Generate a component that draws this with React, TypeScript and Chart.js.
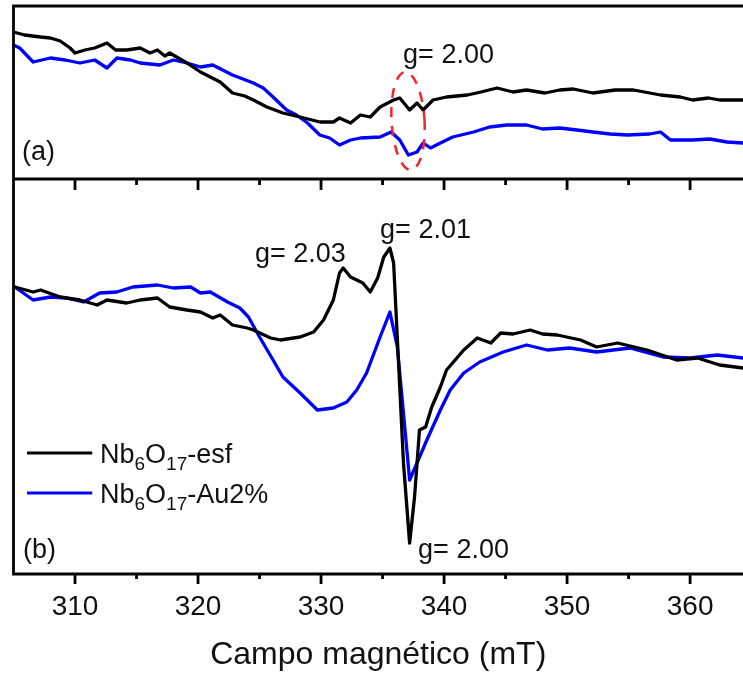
import React, { useEffect, useRef } from 'react';
import { Chart, registerables } from 'chart.js';

Chart.register(...registerables);

// ---------- data (field in mT, signal in arbitrary units) ----------
// Panel (a)
const FIELD_A_ESF = [305.0, 305.9, 307.2, 308.0, 308.8, 309.6, 310.0, 310.8, 311.6, 312.6, 313.3, 314.2, 315.3, 316.1, 316.7, 317.3, 317.7, 319.1, 320.2, 321.8, 322.8, 323.8, 324.5, 325.6, 326.9, 328.3, 329.9, 331.0, 331.5, 332.4, 333.2, 334.0, 334.8, 335.9, 336.4, 337.2, 337.8, 338.3, 339.1, 340.2, 341.9, 343.0, 344.3, 345.6, 346.7, 348.2, 349.4, 350.5, 352.1, 353.9, 355.4, 357.6, 359.2, 360.2, 361.5, 362.4, 364.3];
const SIGNAL_A_ESF = [147, 144, 142, 141, 138, 131, 126, 129, 131, 136, 129, 129, 131, 126, 129, 123, 126, 116, 107, 97, 86, 83, 79, 72, 66, 62, 57, 57, 61, 56, 64, 62, 72, 79, 81, 69, 76, 69, 79, 82, 84, 87, 91, 87, 89, 86, 89, 90, 86, 89, 89, 84, 82, 79, 81, 79, 79];

const FIELD_A_AU = [305.0, 305.5, 306.6, 308.0, 309.2, 310.4, 311.6, 312.6, 313.4, 314.5, 315.3, 316.9, 318.0, 319.1, 320.2, 321.2, 322.8, 324.5, 325.3, 326.1, 327.2, 328.0, 328.9, 329.9, 330.7, 331.5, 332.4, 333.2, 334.8, 335.7, 336.4, 337.1, 337.8, 338.3, 338.9, 339.7, 340.7, 342.4, 343.7, 345.1, 346.7, 348.0, 349.4, 350.8, 352.1, 353.5, 354.9, 356.7, 357.6, 358.4, 360.2, 361.6, 363.0, 364.3];
const SIGNAL_A_AU = [134, 131, 117, 121, 119, 116, 119, 111, 121, 119, 116, 114, 119, 116, 112, 114, 104, 96, 91, 82, 69, 64, 56, 44, 41, 34, 39, 41, 42, 47, 39, 24, 27, 36, 31, 36, 42, 47, 52, 54, 54, 50, 51, 49, 47, 45, 44, 45, 47, 39, 39, 40, 37, 36];

// Panel (b)
const FIELD_B_ESF = [305.1, 306.6, 307.2, 308.8, 310.4, 311.8, 312.6, 314.2, 315.3, 316.7, 317.7, 319.1, 320.2, 321.2, 321.8, 322.8, 324.0, 324.5, 325.9, 326.7, 328.3, 329.4, 330.2, 331.0, 331.5, 331.8, 332.4, 333.4, 334.0, 334.6, 335.1, 335.6, 335.9, 336.3, 336.7, 337.2, 337.6, 338.0, 338.5, 339.0, 339.7, 340.2, 341.6, 342.7, 343.8, 344.6, 345.6, 347.0, 348.0, 349.2, 351.1, 352.4, 354.1, 356.5, 358.9, 360.6, 362.4, 364.3];
const SIGNAL_B_ESF = [287, 282, 284, 277, 274, 269, 274, 271, 274, 276, 267, 264, 262, 256, 259, 249, 246, 244, 236, 234, 237, 242, 254, 274, 301, 306, 297, 291, 282, 296, 317, 326, 311, 211, 111, 31, 77, 144, 147, 167, 187, 204, 224, 236, 231, 241, 240, 244, 240, 239, 234, 227, 231, 224, 214, 216, 209, 206];

const FIELD_B_AU = [305.1, 306.6, 308.0, 309.3, 310.7, 312.0, 313.4, 314.7, 316.7, 318.0, 319.4, 320.2, 321.0, 322.4, 323.4, 324.1, 325.0, 326.1, 326.9, 328.3, 329.7, 331.0, 332.1, 332.9, 333.7, 334.8, 335.6, 336.2, 336.7, 337.2, 337.8, 338.6, 339.7, 340.5, 341.6, 342.9, 344.8, 346.7, 348.4, 350.2, 352.4, 355.1, 357.8, 360.0, 362.2, 364.3];
const SIGNAL_B_AU = [287, 274, 277, 276, 272, 281, 282, 287, 289, 286, 287, 281, 282, 272, 266, 257, 237, 214, 197, 181, 164, 166, 172, 184, 201, 237, 262, 227, 161, 94, 111, 134, 164, 184, 201, 212, 222, 229, 224, 226, 222, 226, 217, 216, 219, 216];

const X_TICKS = [310, 320, 330, 340, 350, 360];
const X_MINOR_TICKS = [305, 315, 325, 335, 345, 355, 365];
const X_TITLE = 'Campo magnético (mT)';
const X_MIN = 305;
const X_MAX = 364.3;

// panel (a) sits on top of panel (b) on a common vertical scale
const PANEL_A_OFFSET = 395;
const Y_MAX = 568;

const COLOR_ESF = '#000000';
const COLOR_AU = '#0000ff';
const FONT = '"Liberation Sans", Arial, Helvetica, sans-serif';

const LEGEND_ESF = [['Nb', false], ['6', true], ['O', false], ['17', true], ['-esf', false]];
const LEGEND_AU = [['Nb', false], ['6', true], ['O', false], ['17', true], ['-Au2%', false]];

function zip(xs: number[], ys: number[], off: number) {
  return xs.map((x, i) => ({ x, y: ys[i] + off }));
}

const overlayPlugin = {
  id: 'overlay',
  afterDraw(chart: any) {
    const { ctx, chartArea: ca, scales } = chart;
    const x = scales.x;
    const y = scales.y;
    const W = chart.width;
    const yDiv = y.getPixelForValue(PANEL_A_OFFSET);
    ctx.save();
    // frame
    ctx.strokeStyle = '#000';
    ctx.lineWidth = 2.8;
    ctx.lineCap = 'butt';
    ctx.beginPath();
    ctx.moveTo(W + 2, ca.top);
    ctx.lineTo(ca.left, ca.top);
    ctx.lineTo(ca.left, ca.bottom);
    ctx.lineTo(W + 2, ca.bottom);
    ctx.moveTo(ca.left, yDiv);
    ctx.lineTo(W + 2, yDiv);
    ctx.stroke();
    // tick marks
    const drawTicks = (vals: number[], len: number) => {
      ctx.beginPath();
      for (const v of vals) {
        const px = x.getPixelForValue(v);
        if (px <= ca.left + 1 || px > W) continue;
        ctx.moveTo(px, ca.bottom);
        ctx.lineTo(px, ca.bottom + len);
        ctx.moveTo(px, yDiv);
        ctx.lineTo(px, yDiv + len + 1);
      }
      ctx.stroke();
    };
    drawTicks(X_TICKS, 10);
    drawTicks(X_MINOR_TICKS, 5);

    // red dashed ellipse around g=2.00 in panel (a)
    const cx = x.getPixelForValue(337.07);
    const cy = y.getPixelForValue(PANEL_A_OFFSET + 58);
    const rx = x.getPixelForValue(337.07 + 1.34) - cx;
    const ry = cy - y.getPixelForValue(PANEL_A_OFFSET + 58 + 49);
    ctx.strokeStyle = '#f2262a';
    ctx.lineWidth = 2.5;
    ctx.setLineDash([10, 9]);
    ctx.beginPath();
    ctx.ellipse(cx, cy, rx, ry, -0.06, 0, Math.PI * 2);
    ctx.stroke();
    ctx.setLineDash([]);

    // text annotations
    ctx.fillStyle = '#111';
    ctx.textAlign = 'left';
    ctx.textBaseline = 'alphabetic';
    ctx.font = `27px ${FONT}`;
    const txt = (s: string, xv: number, yv: number) => {
      ctx.fillText(s, x.getPixelForValue(xv), y.getPixelForValue(yv));
    };
    txt('g= 2.00', 336.67, PANEL_A_OFFSET + 116);
    txt('g= 2.03', 324.63, 312);
    txt('g= 2.01', 334.8, 336);
    txt('g= 2.00', 337.89, 16);
    txt('(a)', 305.69, PANEL_A_OFFSET + 19);
    txt('(b)', 305.77, 16);

    // legend
    const legendRow = (parts: any[], color: string, yv: number) => {
      const ly = y.getPixelForValue(yv);
      ctx.strokeStyle = color;
      ctx.lineWidth = 3.2;
      ctx.beginPath();
      ctx.moveTo(x.getPixelForValue(306.1), ly);
      ctx.lineTo(x.getPixelForValue(311.4), ly);
      ctx.stroke();
      let px = x.getPixelForValue(312.03);
      const base = ly + 10;
      for (const [s, sub] of parts) {
        ctx.font = sub ? `19px ${FONT}` : `27px ${FONT}`;
        ctx.fillText(s, px, sub ? base + 7 : base);
        px += ctx.measureText(s).width;
      }
    };
    legendRow(LEGEND_ESF, COLOR_ESF, 121);
    legendRow(LEGEND_AU, COLOR_AU, 81);
    ctx.restore();
  },
};

export default function App() {
  const ref = useRef<HTMLCanvasElement | null>(null);
  useEffect(() => {
    if (!ref.current) return;
    const chart = new Chart(ref.current, {
      type: 'line',
      data: {
        datasets: [
          { label: 'esf (a)', data: zip(FIELD_A_ESF, SIGNAL_A_ESF, PANEL_A_OFFSET), borderColor: COLOR_ESF, borderWidth: 3.3 },
          { label: 'Au2% (a)', data: zip(FIELD_A_AU, SIGNAL_A_AU, PANEL_A_OFFSET), borderColor: COLOR_AU, borderWidth: 3.3 },
          { label: 'esf (b)', data: zip(FIELD_B_ESF, SIGNAL_B_ESF, 0), borderColor: COLOR_ESF, borderWidth: 3.3 },
          { label: 'Au2% (b)', data: zip(FIELD_B_AU, SIGNAL_B_AU, 0), borderColor: COLOR_AU, borderWidth: 3.3 },
        ] as any,
      },
      options: {
        animation: false,
        responsive: false,
        layout: { padding: { left: 13.5, top: 6, right: 0, bottom: 1 } },
        elements: { point: { radius: 0 }, line: { tension: 0, borderJoinStyle: 'round', borderCapStyle: 'round' } },
        plugins: { legend: { display: false }, tooltip: { enabled: false } },
        scales: {
          x: {
            type: 'linear',
            min: X_MIN,
            max: X_MAX,
            grid: { display: false, drawTicks: false, tickLength: 0 },
            border: { display: false },
            afterBuildTicks: (s: any) => {
              s.ticks = X_TICKS.map((v) => ({ value: v }));
            },
            afterFit: (s: any) => {
              s.paddingLeft = 0;
              s.paddingRight = 0;
            },
            ticks: {
              padding: 16,
              color: '#111',
              autoSkip: false,
              maxRotation: 0,
              font: { size: 28, family: FONT },
              callback: (v: any) => String(v),
            },
            title: {
              display: true,
              text: X_TITLE,
              color: '#111',
              font: { size: 32, family: FONT },
              padding: { top: -4, bottom: 0 },
            },
          },
          y: { display: false, min: 0, max: Y_MAX },
        },
      } as any,
      plugins: [overlayPlugin],
    });
    return () => chart.destroy();
  }, []);
  return (
    <div style={{ position: 'absolute', left: 0, top: 0, width: 743, height: 675, background: '#fff' }}>
      <canvas ref={ref} width={743} height={675} />
    </div>
  );
}
